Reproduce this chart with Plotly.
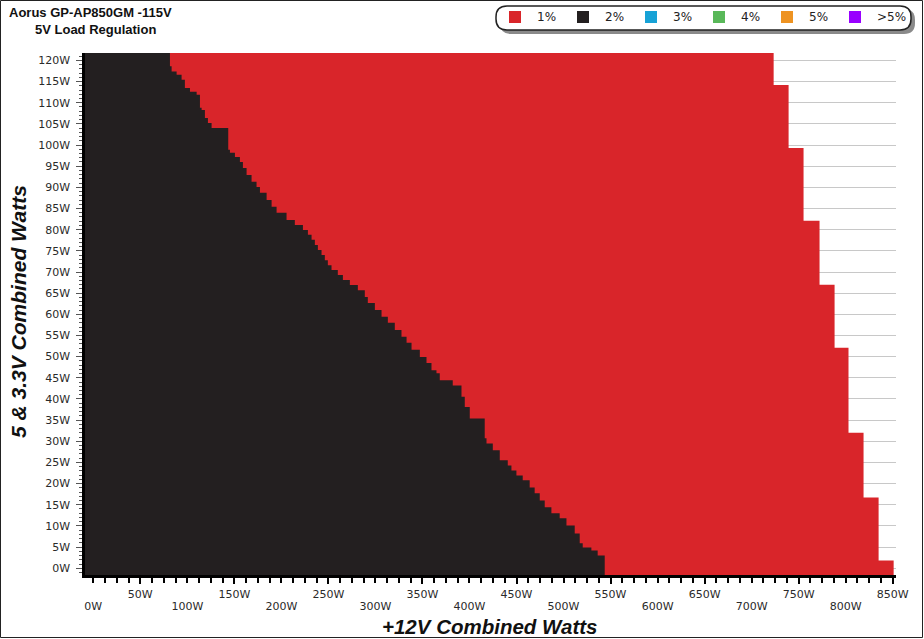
import plotly.graph_objects as go

# ── data (watts) ─────────────────────────────────────────────────────────
# 1% / 2% boundary, from the top of the grid down to the bottom
BOUND_Y = [121.75, 118.6, 117.4, 116.6, 115.4, 113.5, 112.6, 111.9, 108.8, 108.3,
           106.4, 105.2, 104.0, 104.0, 98.9, 98.2, 97.2, 96.0, 94.6, 92.9,
           91.3, 90.1, 88.7, 87.0, 85.4, 84.0, 82.3, 81.1, 79.9, 78.8,
           77.6, 76.4, 75.2, 74.0, 72.8, 71.6, 70.5, 69.3, 68.1, 66.9,
           65.7, 64.1, 62.7, 61.0, 59.4, 58.0, 56.3, 54.7, 53.3, 51.6,
           49.9, 48.5, 46.8, 46.1, 44.4, 43.2, 40.5, 38.1, 35.4, 35.4,
           30.7, 29.5, 27.9, 25.5, 24.3, 23.1, 21.9, 20.8, 19.1, 17.7,
           16.0, 14.4, 13.0, 11.8, 10.1, 8.2, 5.9, 4.9, 4.2, 3.0]
BOUND_X = [81.5, 83.3, 88.6, 93.9, 97.4, 102.8, 109.9, 113.4, 115.2, 118.7,
           121.9, 125.8, 127.2, 143.5, 145.3, 150.6, 155.9, 159.1, 163.0, 168.3,
           173.6, 177.2, 184.3, 189.6, 194.9, 205.5, 214.3, 222.9, 228.2, 232.1,
           235.6, 238.8, 242.7, 246.2, 249.4, 253.3, 260.0, 265.4, 272.8, 281.3,
           288.7, 291.9, 299.4, 306.5, 313.2, 320.6, 327.7, 333.1, 338.4, 347.2,
           354.3, 359.6, 364.9, 368.4, 382.2, 391.5, 395.0, 400.3, 400.3, 416.2,
           418.1, 424.8, 432.2, 440.7, 444.6, 449.9, 456.6, 464.0, 469.3, 474.7,
           480.0, 487.1, 495.9, 503.1, 511.9, 517.2, 520.4, 529.6, 536.3, 543.8]

# outer load limit: right edge of each column and its top
COL_RIGHT = [723.4, 739.3, 755.2, 772.2, 788.2, 803.0, 819.0, 835.0, 851.0]
COL_TOP = [121.75, 114.2, 99.3, 82.1, 67.0, 52.1, 32.0, 16.7, 1.8]

X_MIN, X_MAX = -8.8, 853.5
Y_MIN, Y_MAX = -1.6, 121.75

LEGEND_LABELS = ['1%', '2%', '3%', '4%', '5%', '>5%']
LEGEND_COLORS = ['#d9252a', '#231f20', '#17a2d6', '#59b859', '#ee9322', '#9900ff']

X_TICKS_UPPER = list(range(50, 851, 100))   # 50W, 150W, ... (upper row)
X_TICKS_LOWER = list(range(0, 801, 100))    # 0W, 100W, ... (lower row)
Y_TICKS = list(range(0, 121, 5))

# plot area in pixels
PL, PT, PW, PH = 85, 53, 811, 522
W, H = 924, 639


def px(x):
    return (x - PL) / PW


def py(y):
    return 1 - (y - PT) / PH


def round_rect(x0, y0, x1, y1, r):
    rx, ry = r / PW, r / PH
    a, b, c, d = px(x0), py(y0), px(x1), py(y1)
    return (f"M {a + rx},{b} L {c - rx},{b} Q {c},{b} {c},{b - ry} "
            f"L {c},{d + ry} Q {c},{d} {c - rx},{d} L {a + rx},{d} "
            f"Q {a},{d} {a},{d + ry} L {a},{b - ry} Q {a},{b} {a + rx},{b} Z")


fig = go.Figure()

# 1% region (everything inside the load limit)
fig.add_trace(go.Scatter(
    x=[X_MIN] + COL_RIGHT + [X_MIN],
    y=[COL_TOP[0]] + COL_TOP[1:] + [Y_MIN, Y_MIN],
    mode='lines', line=dict(width=0, shape='hv'),
    fill='toself', fillcolor=LEGEND_COLORS[0],
    showlegend=False, hoverinfo='skip'
))

# 2% region (left of the boundary)
fig.add_trace(go.Scatter(
    x=[X_MIN] + BOUND_X + [BOUND_X[-1], X_MIN],
    y=[Y_MAX] + BOUND_Y + [Y_MIN, Y_MIN],
    mode='lines', line=dict(width=0, shape='vh'),
    fill='toself', fillcolor=LEGEND_COLORS[1],
    showlegend=False, hoverinfo='skip'
))

tick_font = dict(family='DejaVu Sans', size=11, color='#2a2a2a')

shapes = [
    # outer frame
    dict(type='rect', xref='paper', yref='paper',
         x0=px(0.5), y0=py(0.5), x1=px(W - 1.5), y1=py(H - 1.5),
         line=dict(color='#222', width=1)),
    # legend box shadow + box
    dict(type='path', xref='paper', yref='paper',
         path=round_rect(500, 9, 915, 34, 11),
         fillcolor='#8a8a8a', line=dict(width=0)),
    dict(type='path', xref='paper', yref='paper',
         path=round_rect(496, 6, 911, 30, 11),
         fillcolor='white', line=dict(color='#222', width=1.5)),
]

annotations = [
    dict(text='<b>Aorus GP-AP850GM -115V</b>', xref='paper', yref='paper',
         x=px(7), y=py(12), xanchor='left', yanchor='middle', showarrow=False,
         font=dict(family='Liberation Sans', size=13, color='#111')),
    dict(text='<b>5V Load Regulation</b>', xref='paper', yref='paper',
         x=px(33), y=py(29), xanchor='left', yanchor='middle', showarrow=False,
         font=dict(family='Liberation Sans', size=13, color='#111')),
    dict(text='<b><i>+12V Combined Watts</i></b>', xref='paper', yref='paper',
         x=px(490), y=py(626), xanchor='center', yanchor='middle', showarrow=False,
         font=dict(family='Liberation Sans', size=20.5, color='#111')),
    dict(text='<b><i>5 &amp; 3.3V Combined Watts</i></b>', xref='paper', yref='paper',
         x=px(18), y=py(312), xanchor='center', yanchor='middle', showarrow=False,
         textangle=-90,
         font=dict(family='Liberation Sans', size=21, color='#111')),
]

# hand-drawn legend (squares + labels) inside the rounded box
for i, (lab, col) in enumerate(zip(LEGEND_LABELS, LEGEND_COLORS)):
    cx = 515 + i * 68
    shapes.append(dict(type='rect', xref='paper', yref='paper',
                       x0=px(cx - 6), x1=px(cx + 6), y0=py(11), y1=py(23),
                       fillcolor=col, line=dict(width=0)))
    annotations.append(dict(text=lab, xref='paper', yref='paper',
                            x=px(cx + 20), y=py(17), xanchor='left', yanchor='middle',
                            showarrow=False,
                            font=dict(family='DejaVu Sans', size=12, color='#222')))

fig.update_layout(
    width=W, height=H,
    margin=dict(l=PL, r=W - PL - PW, t=PT, b=H - PT - PH, autoexpand=False),
    paper_bgcolor='white', plot_bgcolor='white',
    showlegend=False,
    xaxis=dict(
        range=[X_MIN, X_MAX], showgrid=False, zeroline=False,
        showline=True, linecolor='black', linewidth=2.5,
        tickmode='array', tickvals=X_TICKS_UPPER,
        ticktext=[f'{v}W' for v in X_TICKS_UPPER],
        ticks='outside', ticklen=6, tickcolor='black', tickwidth=1.5,
        minor=dict(tickmode='linear', tick0=0, dtick=12.5, ticks='outside',
                   ticklen=5, tickcolor='black', tickwidth=1.5),
        ticklabelstandoff=1,
        tickfont=tick_font
    ),
    # second axis only carries the staggered lower row of labels
    xaxis2=dict(
        range=[X_MIN, X_MAX], overlaying='x', anchor='y', side='bottom',
        showgrid=False, zeroline=False, showline=False,
        tickmode='array', tickvals=X_TICKS_LOWER,
        ticktext=[f'{v}W' for v in X_TICKS_LOWER],
        ticks='outside', ticklen=6, tickcolor='black', tickwidth=1.5,
        ticklabelstandoff=15,
        tickfont=tick_font
    ),
    yaxis=dict(
        range=[Y_MIN, Y_MAX], zeroline=False,
        showgrid=True, gridcolor='#c8c8c8', gridwidth=1,
        showline=True, linecolor='black', linewidth=2.5,
        tickmode='array', tickvals=Y_TICKS,
        ticktext=[f'{v}W' for v in Y_TICKS],
        ticks='outside', ticklen=6, tickcolor='#555', tickwidth=1,
        minor=dict(tickmode='linear', tick0=0, dtick=1, ticks='outside',
                   ticklen=3, tickcolor='#555', tickwidth=1),
        ticklabelstandoff=4,
        tickfont=tick_font
    ),
    shapes=shapes,
    annotations=annotations
)

# dummy trace so the second x axis is drawn
fig.add_trace(go.Scatter(x=[None], y=[None], xaxis='x2', yaxis='y',
                         showlegend=False, hoverinfo='skip'))

fig.write_html("out.html",
               config={'displayModeBar': False},
               post_script="document.body.style.margin='0';")
